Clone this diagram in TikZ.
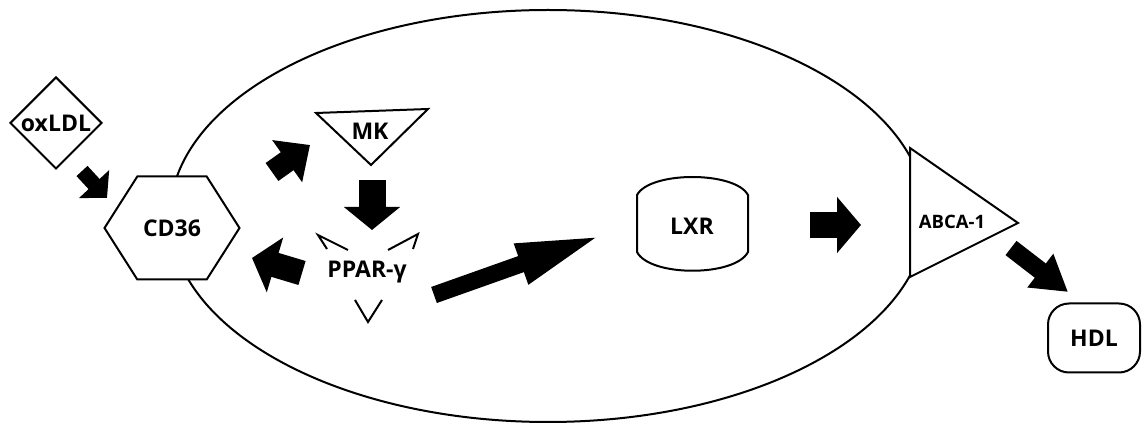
\documentclass[tikz,border=0pt]{standalone}
\usepackage{fontspec}
\setmainfont{Open Sans}
\usetikzlibrary{arrows.meta,shapes.geometric,shapes.symbols,calc}
\tikzset{
  shapeline/.style={draw=black,line width=2pt,fill=white,line join=miter},
  bigfont/.style={font=\fontsize{23}{27}\selectfont\bfseries},
  lbl/.style={bigfont,inner sep=0pt},
  smalllbl/.style={font=\fontsize{18.5}{22}\selectfont\bfseries,inner sep=0pt},
  hexa/.style={shapeline,signal,signal to=west and east,signal pointer angle=115,
    minimum width=135pt,minimum height=103pt,inner sep=0pt,bigfont},
  diam/.style={shapeline,diamond,aspect=1,minimum width=92pt,minimum height=92pt,inner sep=0pt,
    bigfont},
  roundbox/.style={shapeline,rounded corners=21pt,minimum width=92pt,minimum height=69pt,
    bigfont},
  chev/.style={draw=black,line width=2pt,line join=miter},
}
\newcommand{\blockarrow}[5]{%
  \draw[line width=#3pt,-{Triangle[width=#4pt,length=#5pt]}] (#1) -- (#2);}
\begin{document}
\begin{tikzpicture}[x=1pt,y=-1pt]
\useasboundingbox (0,0) rectangle (1144,427);
% cell
\draw[line width=2pt] (548,216) ellipse [x radius=378, y radius=206];
% membrane proteins / shapes
\node[hexa] (cd36) at (172,228) {CD36};
\node[diam] (oxldl) at (56,123) {oxLDL};
\draw[shapeline] (316,113) -- (428,109) -- (371,165) -- cycle;
\node[lbl] (mk) at (370,131) {MK};
\draw[shapeline] (637,195) -- (637,252) .. controls (650,277) and (735,277) .. (748,252)
  -- (748,195) .. controls (735,171) and (650,171) .. (637,195) -- cycle;
\node[lbl] (lxr) at (692,226) {LXR};
\draw[shapeline] (910,148) -- (1018,223) -- (910,277) -- cycle;
\node[smalllbl] (abca) at (952,222) {ABCA-1};
\node[roundbox] (hdl) at (1094,338) {HDL};
\node[lbl] (ppar) at (367,272) {PPAR-γ};
% chevrons around PPAR-gamma
\draw[chev] (327,249) -- (318,235) -- (348,250);
\draw[chev] (413,249) -- (418,234) -- (388,250);
\draw[chev] (355,300) -- (368,322) -- (382,300);
% block arrows
\coordinate (a1s) at (82,171);  \coordinate (a1e) at (107,198);
\coordinate (a2s) at (272,172); \coordinate (a2e) at (310,145);
\coordinate (a3s) at (372,180); \coordinate (a3e) at (372,230);
\coordinate (a4s) at (302,273); \coordinate (a4e) at (252,258);
\coordinate (a5s) at (434,295); \coordinate (a5e) at (603,235);
\coordinate (a6s) at (810,225); \coordinate (a6e) at (861,225);
\coordinate (a7s) at (1011,248); \coordinate (a7e) at (1068,292);
\blockarrow{a1s}{a1e}{15}{40}{19}
\blockarrow{a2s}{a2e}{22}{50}{28}
\blockarrow{a3s}{a3e}{27}{55}{23}
\blockarrow{a4s}{a4e}{25}{56}{24}
\blockarrow{a5s}{a5e}{17}{38}{87}
\blockarrow{a6s}{a6e}{26}{55}{24}
\blockarrow{a7s}{a7e}{18}{40}{35}
\end{tikzpicture}
\end{document}
